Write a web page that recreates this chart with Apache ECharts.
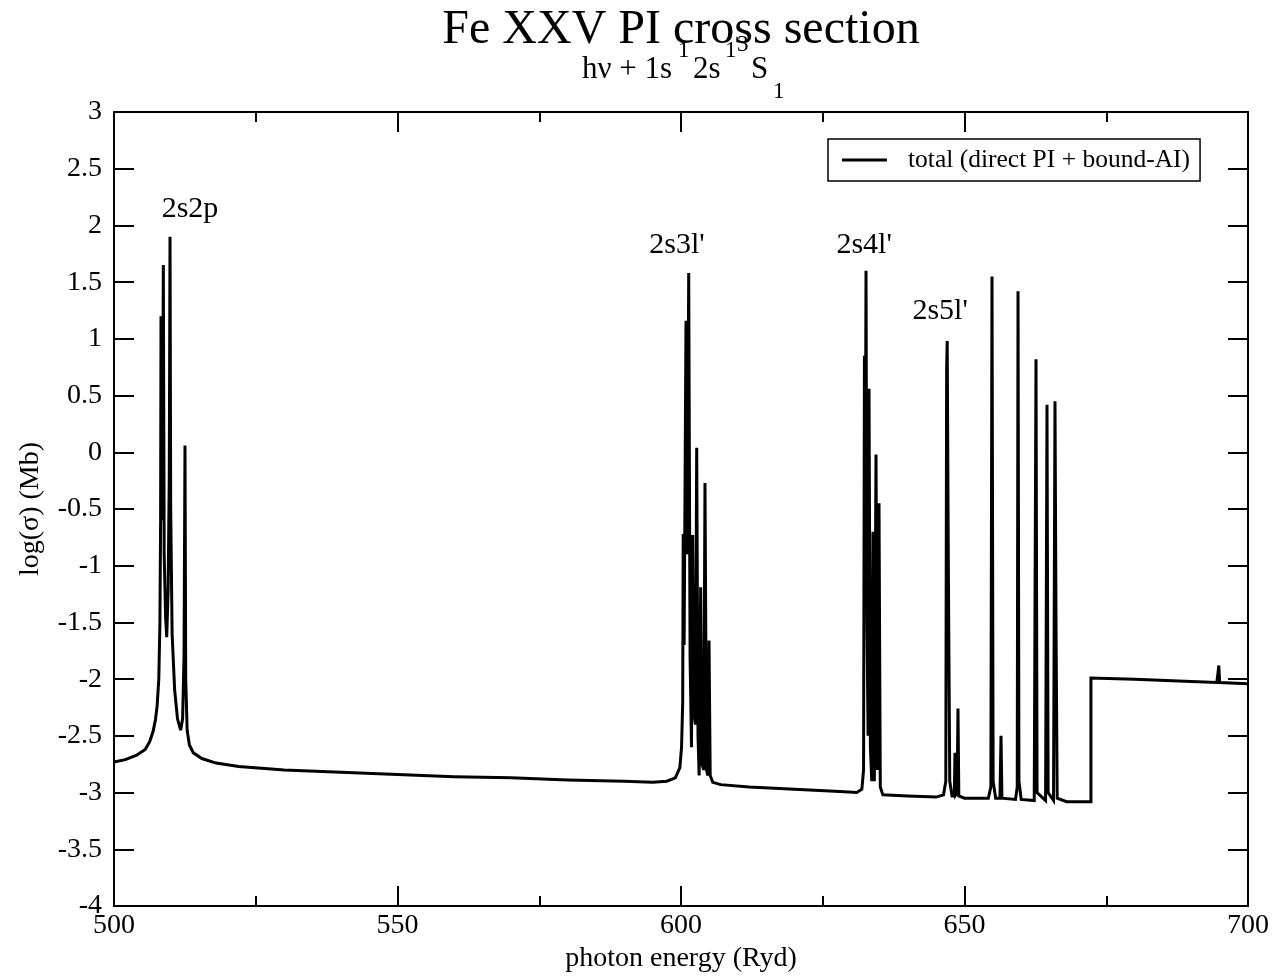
<!DOCTYPE html>
<html>
<head>
<meta charset="utf-8">
<script src="https://cdn.jsdelivr.net/npm/echarts@6/dist/echarts.min.js"></script>
<style>
  html, body { margin: 0; padding: 0; background: #ffffff; }
  #chart { width: 1277px; height: 980px; }
</style>
</head>
<body>
<div id="chart"></div>
<script>
// Fe XXV photoionization cross section, log10(sigma / Mb) versus photon energy (Ryd)
const SERIF = '"Liberation Serif", "Times New Roman", Times, serif';

// below the 2s2p resonances
const lowEnergy = [
  [500, -2.73], [502, -2.71], [504, -2.67], [505.5, -2.62], [506.3, -2.55],
  [506.9, -2.46], [507.3, -2.36], [507.6, -2.24], [507.9, -2.0], [508.1, -1.5],
  [508.22, -0.6]
];
// 2s2p resonance cluster
const res2s2p = [
  [508.29, 1.2], [508.4, -0.6], [508.55, -0.2], [508.7, 1.65], [508.85, -0.9],
  [509.1, -1.45], [509.3, -1.63], [509.55, -1.2], [509.75, -0.2], [509.88, 1.9],
  [510.0, -0.5], [510.25, -1.6], [510.7, -2.1], [511.2, -2.35], [511.75, -2.45],
  [512.1, -2.35], [512.35, -1.8], [512.52, 0.06], [512.65, -2.0], [512.9, -2.45]
];
// smooth background between n=2 and n=3
const background23 = [
  [513.3, -2.58], [514, -2.65], [515.5, -2.7], [518, -2.74], [522, -2.77],
  [530, -2.8], [540, -2.82], [550, -2.84], [560, -2.86], [570, -2.87],
  [580, -2.89], [590, -2.9], [595, -2.91], [597.5, -2.9], [599, -2.87],
  [599.8, -2.78], [600.1, -2.6], [600.3, -2.2]
];
// 2s3l' resonances
const res2s3l = [
  [600.39, -0.72], [600.55, -1.7], [600.88, 1.16], [601.1, -0.9], [601.36, 1.58],
  [601.6, -1.8], [601.85, -2.6], [602.06, -0.73], [602.3, -2.3], [602.55, -2.4],
  [602.77, 0.04], [603.0, -2.5], [603.2, -2.85], [603.47, -1.19], [603.7, -2.75],
  [604.0, -2.8], [604.23, -0.27], [604.5, -2.8], [604.75, -2.85], [604.94, -1.66],
  [605.15, -2.85], [605.6, -2.91]
];
const background34 = [
  [607, -2.93], [612, -2.95], [620, -2.97], [628, -2.99], [631, -3.0],
  [631.9, -2.97], [632.2, -2.8]
];
// 2s4l' resonances
const res2s4l = [
  [632.35, 0.85], [632.5, -0.5], [632.63, 1.6], [632.8, -1.5], [633.0, -2.5],
  [633.16, 0.56], [633.4, -2.6], [633.65, -2.9], [633.86, -0.7], [634.1, -2.9],
  [634.39, -0.02], [634.65, -2.8], [634.92, -0.45], [635.15, -2.95], [635.6, -3.02]
];
// 2s5l' resonances
const res2s5l = [
  [640, -3.03], [645, -3.04], [646.3, -3.02], [646.7, -2.9], [646.85, 0.74],
  [646.95, 0.98], [647.15, -1.0], [647.4, -2.9], [647.8, -3.03], [648.2, -3.03],
  [648.32, -2.65], [648.45, -3.02], [648.7, -3.0], [648.85, -2.26], [649.0, -3.03]
];
// higher 2snl' resonances up to the n=2 threshold
const resHigh = [
  [650, -3.05], [654.2, -3.05], [654.65, -2.95], [654.85, 1.55], [655.05, -2.9],
  [655.5, -3.05], [656.25, -3.05], [656.44, -2.5], [656.6, -3.05], [659.0, -3.06],
  [659.3, -2.95], [659.44, 1.42], [659.6, -2.9], [660, -3.06], [662.3, -3.07],
  [662.61, 0.82], [662.8, -3.0], [664.3, -3.07], [664.55, 0.42], [664.75, -3.0],
  [665.7, -3.07], [665.96, 0.45], [666.15, -1.6], [666.35, -3.05], [668, -3.08],
  [672.3, -3.08]
];
// above the threshold step
const aboveEdge = [
  [672.3, -1.99], [680, -2.0], [690, -2.02], [694.5, -2.03], [694.7, -1.95],
  [694.85, -1.88], [695.0, -2.03], [700, -2.04]
];

// resonance group labels: energy, log sigma, text
const groupLabels = [
  [513.4, 2.145, '2s2p'],
  [599.3, 1.83, "2s3l'"],
  [632.3, 1.83, "2s4l'"],
  [645.7, 1.245, "2s5l'"]
];

const seriesName = 'total (direct PI + bound-AI)';
const totalCurve = [].concat(lowEnergy, res2s2p, background23, res2s3l,
  background34, res2s4l, res2s5l, resHigh, aboveEdge);

const chart = echarts.init(document.getElementById('chart'), null, { renderer: 'canvas' });

const frameLine = { show: true, onZero: false, lineStyle: { color: '#000', width: 2 } };
const majorTick = { show: true, inside: true, length: 20, lineStyle: { color: '#000', width: 2 } };
const labelStyle = { color: '#000', fontFamily: SERIF, fontSize: 28 };

function txt(x, y, text, size, align) {
  return {
    type: 'text', x: x, y: y, silent: true,
    style: { text: text, font: size + 'px ' + SERIF, fill: '#000', align: align || 'left', verticalAlign: 'middle' }
  };
}

chart.setOption({
  animation: false,
  backgroundColor: '#ffffff',
  grid: { left: 114, right: 29, top: 112, bottom: 74, containLabel: false, outerBoundsMode: 'none' },
  graphic: [
    txt(681, 30, 'Fe XXV PI cross section', 48, 'center'),
    txt(582, 70, 'h\u03bd + 1s', 31),
    txt(678, 51, '1', 23),
    txt(693, 70, '2s', 31),
    txt(725, 51, '1', 23),
    txt(737, 45, '3', 23),
    txt(751, 70, 'S', 31),
    txt(773, 92, '1', 23)
  ],
  legend: {
    data: [seriesName],
    left: 828, top: 139,
    orient: 'horizontal',
    icon: 'rect',
    itemWidth: 45, itemHeight: 3,
    padding: [8, 10, 8, 14],
    borderColor: '#000', borderWidth: 1.5, borderRadius: 0,
    backgroundColor: '#fff',
    selectedMode: false,
    itemStyle: { color: '#000' },
    textStyle: { color: '#000', fontFamily: SERIF, fontSize: 25.5, padding: [0, 0, 0, 16] }
  },
  xAxis: [
    {
      type: 'value', min: 500, max: 700, interval: 50, position: 'bottom',
      axisLine: frameLine, axisTick: majorTick,
      minorTick: { show: true, splitNumber: 2, length: 10, lineStyle: { color: '#000', width: 2 } },
      splitLine: { show: false }, minorSplitLine: { show: false },
      axisLabel: Object.assign({ margin: 6 }, labelStyle),
      name: 'photon energy (Ryd)', nameLocation: 'middle', nameGap: 38,
      nameTextStyle: { color: '#000', fontFamily: SERIF, fontSize: 28 }
    },
    {
      type: 'value', min: 500, max: 700, interval: 50, position: 'top',
      axisLine: frameLine, axisTick: majorTick,
      minorTick: { show: true, splitNumber: 2, length: 10, lineStyle: { color: '#000', width: 2 } },
      splitLine: { show: false }, axisLabel: { show: false }
    }
  ],
  yAxis: [
    {
      type: 'value', min: -4, max: 3, interval: 0.5, position: 'left',
      axisLine: frameLine, axisTick: majorTick,
      splitLine: { show: false },
      axisLabel: Object.assign({ margin: 12 }, labelStyle),
      name: 'log(\u03c3) (Mb)', nameLocation: 'middle', nameGap: 69,
      nameTextStyle: { color: '#000', fontFamily: SERIF, fontSize: 28 }
    },
    {
      type: 'value', min: -4, max: 3, interval: 0.5, position: 'right',
      axisLine: frameLine, axisTick: majorTick,
      splitLine: { show: false }, axisLabel: { show: false }
    }
  ],
  series: [
    {
      name: seriesName,
      type: 'line',
      xAxisIndex: 0, yAxisIndex: 0,
      data: totalCurve,
      showSymbol: false, symbol: 'none',
      smooth: false,
      lineStyle: { color: '#000', width: 3, join: 'miter', miterLimit: 4 },
      itemStyle: { color: '#000' },
      emphasis: { disabled: true },
      z: 3
    },
    {
      name: 'groups',
      type: 'scatter',
      xAxisIndex: 0, yAxisIndex: 0,
      data: groupLabels,
      symbol: 'circle',
      symbolSize: 2,
      itemStyle: { color: 'rgba(255,255,255,0)' },
      silent: true,
      label: {
        show: true, position: 'inside',
        formatter: p => p.value[2],
        color: '#000', opacity: 1,
        textBorderWidth: 0, textBorderColor: 'transparent',
        fontFamily: SERIF, fontSize: 30
      },
      z: 4
    }
  ]
});
</script>
</body>
</html>
